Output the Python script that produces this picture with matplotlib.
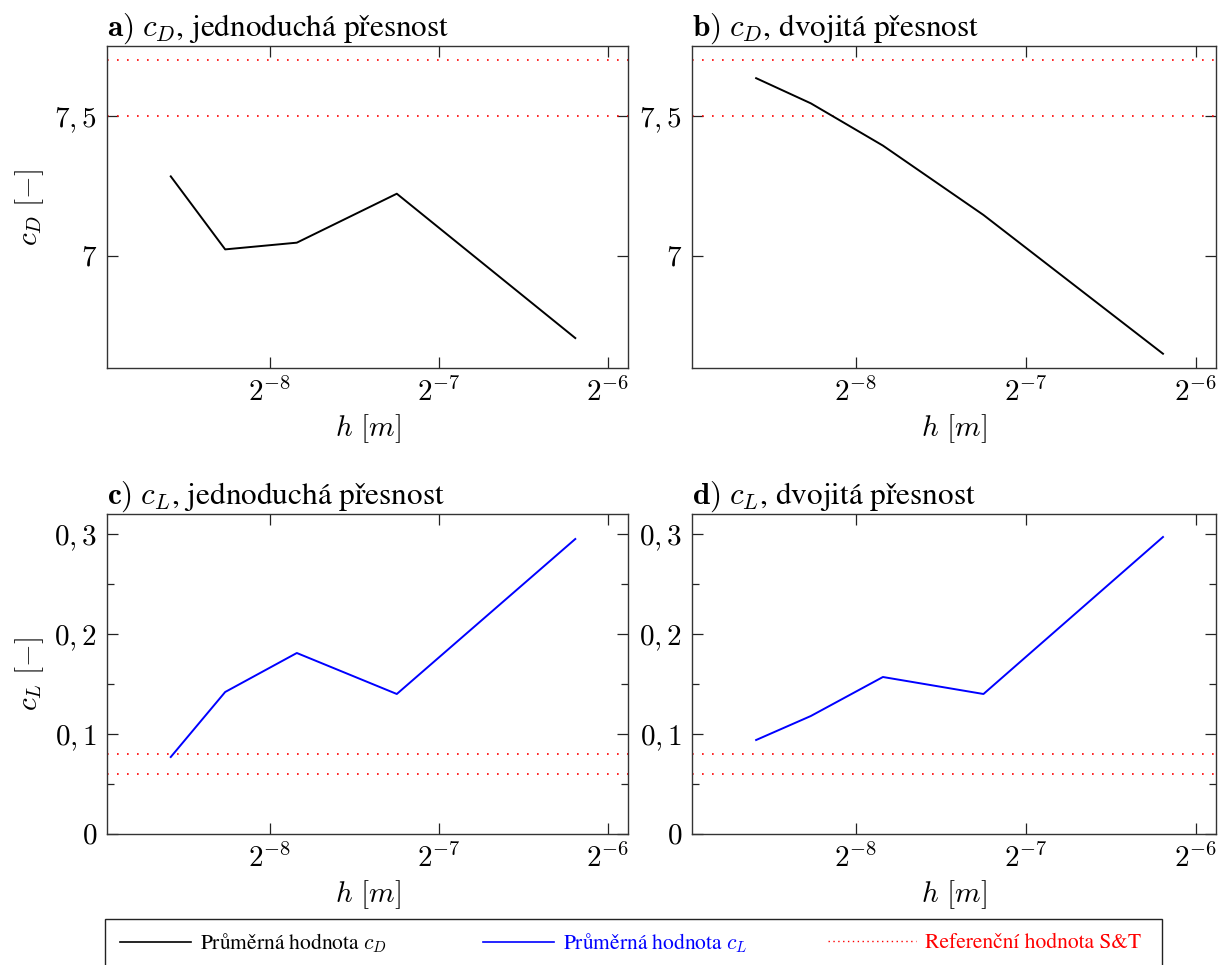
import numpy as np
import matplotlib
matplotlib.use('Agg')
import matplotlib.pyplot as plt
from matplotlib.ticker import FixedLocator, FixedFormatter, NullLocator
from matplotlib.lines import Line2D
from matplotlib.patches import Rectangle

plt.rcParams['font.family'] = ['STIXGeneral', 'DejaVu Serif']
plt.rcParams['mathtext.fontset'] = 'cm'
plt.rcParams['axes.unicode_minus'] = False

# krok site h [m]
h_vals = [0.00260, 0.00325, 0.00436, 0.00657, 0.01366]
# prumerne hodnoty
cd_single = [7.285, 7.024, 7.048, 7.223, 6.707]
cd_double = [7.636, 7.546, 7.395, 7.147, 6.651]
cl_single = [0.077, 0.142, 0.181, 0.140, 0.295]
cl_double = [0.094, 0.118, 0.157, 0.140, 0.297]
# referencni hodnoty S&T
ref_cd = [7.5, 7.7]
ref_cl = [0.06, 0.08]

x_ticks = [2 ** -8, 2 ** -7, 2 ** -6]
x_ticklabels = [r'$2^{-8}$', r'$2^{-7}$', r'$2^{-6}$']
cd_ticks = [7.0, 7.5]
cd_ticklabels = [r'$7$', r'$7,5$']
cl_ticks = [0.0, 0.1, 0.2, 0.3]
cl_ticklabels = [r'$0$', r'$0,1$', r'$0,2$', r'$0,3$']
cl_minor = [0.05, 0.15, 0.25]

W, H = 1225, 965
fig = plt.figure(figsize=(W / 100, H / 100), dpi=100)


def px_axes(l, t, r, b):
    return fig.add_axes([l / W, 1 - b / H, (r - l) / W, (b - t) / H])


def style_axes(ax, title, yticks, yticklabels, ylim, ylabel=None, minor=None):
    ax.set_xscale('log', base=2)
    ax.set_xlim(2 ** -8.9645, 2 ** -5.882)
    ax.set_ylim(*ylim)
    ax.xaxis.set_major_locator(FixedLocator(x_ticks))
    ax.xaxis.set_major_formatter(FixedFormatter(x_ticklabels))
    ax.xaxis.set_minor_locator(NullLocator())
    ax.yaxis.set_major_locator(FixedLocator(yticks))
    ax.yaxis.set_major_formatter(FixedFormatter(yticklabels))
    if minor is not None:
        ax.yaxis.set_minor_locator(FixedLocator(minor))
    else:
        ax.yaxis.set_minor_locator(NullLocator())
    ax.tick_params(which='both', direction='in', top=True, right=True, width=0.9, color='#222222')
    ax.tick_params(which='major', length=8, labelsize=21, pad=7)
    ax.tick_params(which='minor', length=5)
    for s in ax.spines.values():
        s.set_linewidth(1.0)
        s.set_color('#333333')
    ax.set_xlabel(r'$h\ [m]$', fontsize=21, labelpad=4)
    if ylabel:
        ax.set_ylabel(ylabel, fontsize=21, labelpad=6)
    ax.set_title(title, loc='left', fontsize=22.5, pad=5)


ax_a = px_axes(107, 46, 628, 368)
ax_b = px_axes(692, 46, 1216, 368)
ax_c = px_axes(107, 514, 628, 834)
ax_d = px_axes(692, 514, 1216, 834)

dot = (0, (1, 5))
for ax, vals in [(ax_a, cd_single), (ax_b, cd_double)]:
    for r in ref_cd:
        ax.axhline(r, color='red', lw=1.2, linestyle=dot)
    ax.plot(h_vals, vals, color='black', lw=1.4)
for ax, vals in [(ax_c, cl_single), (ax_d, cl_double)]:
    for r in ref_cl:
        ax.axhline(r, color='red', lw=1.2, linestyle=dot)
    ax.plot(h_vals, vals, color='blue', lw=1.4)

style_axes(ax_a, r'$\mathbf{a)}$ $c_D$, jednoduchá přesnost', cd_ticks, cd_ticklabels,
           (6.6, 7.751), ylabel=r'$c_D\ [-]$')
style_axes(ax_b, r'$\mathbf{b)}$ $c_D$, dvojitá přesnost', cd_ticks, cd_ticklabels, (6.6, 7.751))
style_axes(ax_c, r'$\mathbf{c)}$ $c_L$, jednoduchá přesnost', cl_ticks, cl_ticklabels,
           (0, 0.32), ylabel=r'$c_L\ [-]$', minor=cl_minor)
style_axes(ax_d, r'$\mathbf{d)}$ $c_L$, dvojitá přesnost', cl_ticks, cl_ticklabels,
           (0, 0.32), minor=cl_minor)

# legenda pod grafy
fig.patches.append(Rectangle((105 / W, 1 - 967 / H), 1057 / W, 48 / H, transform=fig.transFigure,
                             fill=False, edgecolor='#222222', lw=1.0))
leg_items = [
    (Line2D([], [], color='black', lw=1.2), r'Průměrná hodnota $c_D$', 120, 3.3),
    (Line2D([], [], color='blue', lw=1.2), r'Průměrná hodnota $c_L$', 483, 3.3),
    (Line2D([], [], color='red', lw=1.0, linestyle=(0, (1, 2.5))), 'Referenční hodnota S&T', 828, 4.1),
]
for handle, label, x0, hl in leg_items:
    fig.legend([handle], [label], loc='center left', bbox_to_anchor=(x0 / W, 1 - 943 / H),
               fontsize=15.5, handlelength=hl, handletextpad=0.4, frameon=False,
               borderpad=0, borderaxespad=0, labelcolor='linecolor')

fig.savefig('out.png', dpi=100)
